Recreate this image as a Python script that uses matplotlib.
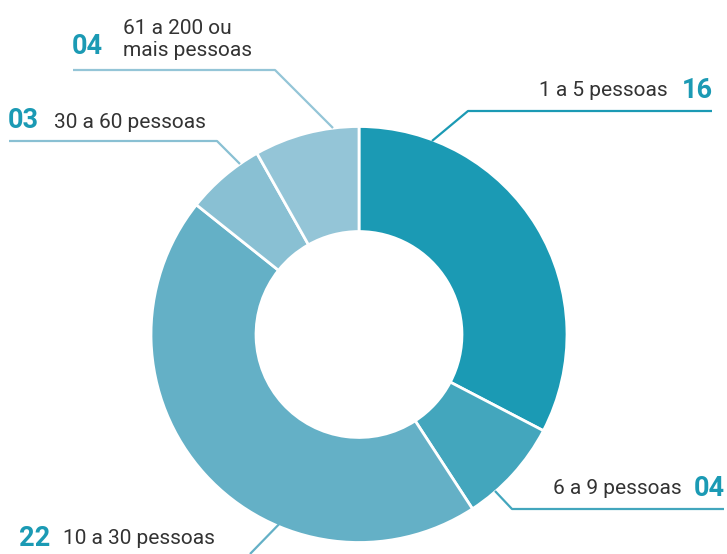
import matplotlib
matplotlib.use("Agg")
import matplotlib.pyplot as plt

categories = ["1 a 5 pessoas", "6 a 9 pessoas", "10 a 30 pessoas", "30 a 60 pessoas", "61 a 200 ou\nmais pessoas"]
values = [16, 4, 22, 3, 4]
value_labels = ["16", "04", "22", "03", "04"]
colors = ["#1b9ab4", "#43a6bd", "#64b0c6", "#89c0d3", "#94c5d7"]

W, H = 727, 554
fig = plt.figure(figsize=(W / 100, H / 100), dpi=100)
ax = fig.add_axes([0, 0, 1, 1])
ax.set_xlim(0, W)
ax.set_ylim(0, H)
ax.set_aspect("equal")
ax.axis("off")

def Y(p):
    return H - p

cx, cy, R = 359, 334.5, 208
ax.pie(values, colors=colors, startangle=90, counterclock=False,
       center=(cx, Y(cy)), radius=R,
       wedgeprops=dict(width=R * 0.505, edgecolor="white", linewidth=2))
ax.set_xlim(0, W)
ax.set_ylim(0, H)

FONT = "Roboto"
NFONT = "Roboto"
txt_color = "#333333"
num_color = "#1b9ab4"
fs = 15
fsb = 19.5

# leader lines (pixel coordinates)
leaders = [
    ([(432, 141), (468, 111), (712, 111)], colors[0]),
    ([(495, 491), (512, 509), (724, 509)], colors[1]),
    ([(287, 516), (250, 554)], colors[2]),
    ([(240, 164), (217, 141), (9, 141)], colors[3]),
    ([(333, 128), (275, 70), (73, 70)], colors[4]),
]
for pts, c in leaders:
    ax.plot([p[0] for p in pts], [Y(p[1]) for p in pts], color=c, lw=1.6,
            solid_capstyle="butt", clip_on=False)

def lab(x, y, s, ha):
    ax.text(x, Y(y), s, ha=ha, va="center", fontsize=fs, color=txt_color, family=FONT)

def num(x, y, s, ha):
    ax.text(x, Y(y), s, ha=ha, va="center", fontsize=fsb, color=num_color, weight="bold", family=NFONT)

lab(668, 91, categories[0], "right")
num(713, 90, value_labels[0], "right")

lab(682, 489, categories[1], "right")
num(725, 488, value_labels[1], "right")

num(19, 538, value_labels[2], "left")
lab(63, 539, categories[2], "left")

num(8, 121, value_labels[3], "left")
lab(54, 122, categories[3], "left")

num(72, 47, value_labels[4], "left")
ax.text(123, Y(39), categories[4], ha="left", va="center", fontsize=fs, color=txt_color,
        family=FONT, linespacing=1.2)

fig.savefig("out.png", dpi=100, facecolor="white")
